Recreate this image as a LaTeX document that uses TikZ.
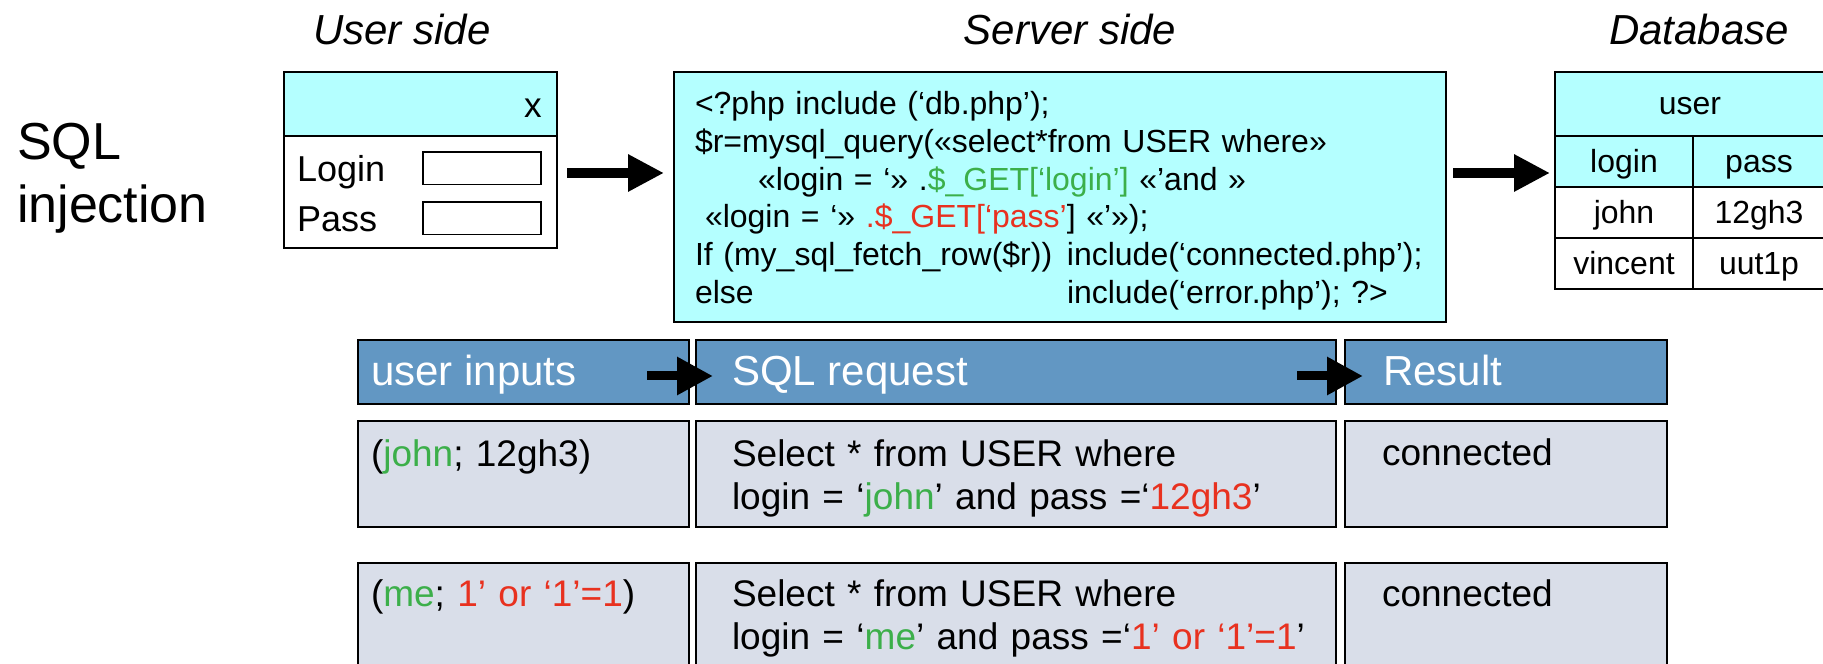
\documentclass[tikz,border=0pt]{standalone}
\usepackage{fontspec}
\setmainfont{Liberation Sans}
\usepackage{xcolor}
\usepackage{tikz}
\usetikzlibrary{arrows.meta,positioning}

\definecolor{wincyan}{HTML}{B4FFFF}
\definecolor{headblue}{HTML}{6297C3}
\definecolor{rowgray}{HTML}{D9DEE9}
\definecolor{okgreen}{HTML}{3CAF4A}
\definecolor{badred}{HTML}{E8311F}

\newcommand{\greentxt}[1]{\textcolor{okgreen}{#1}}
\newcommand{\redtxt}[1]{\textcolor{badred}{#1}}

\begin{document}
\begin{tikzpicture}[
        x=0.1mm, y=-0.1mm,
        every node/.style={inner sep=0pt, outer sep=0pt},
        sidetitle/.style={anchor=base, font=\fontsize{11.95pt}{14pt}\selectfont\itshape},
        boxframe/.style={draw=black, line width=0.6pt, anchor=north west},
        inputfield/.style={draw=black, line width=0.5pt, fill=white, anchor=north west, minimum width=11.8mm, minimum height=3.25mm},
        dbcell/.style={boxframe, font=\fontsize{9.1pt}{11pt}\selectfont, text height=2.6mm, text depth=0.4mm},
        headbox/.style={boxframe, fill=headblue, minimum height=6.4mm},
        rowbox/.style={boxframe, fill=rowgray, minimum height=10.6mm},
        headtxt/.style={anchor=base west, text=white, font=\fontsize{11.95pt}{14pt}\selectfont},
        rowtxt/.style={anchor=base west, text width=62mm, align=left, font=\fontsize{10.53pt}{12.2pt}\selectfont},
        bigarrow/.style={-{Triangle[length=3.6mm, width=3.5mm]}, line width=1mm},
        smallarrow/.style={-{Triangle[length=3.6mm, width=3.6mm]}, line width=0.9mm}
    ]
        \useasboundingbox (0,0) rectangle (1823,664);

        % titles
        \node[sidetitle] (usertitle) at (402,45) {User side};
        \node[sidetitle] (servertitle) at (1070,45) {Server side};
        \node[sidetitle] (dbtitle) at (1699,45) {Database};
        \node[anchor=base west, text width=25mm, align=left, font=\fontsize{14.8pt}{17.9pt}\selectfont] (topic) at (17,160) {SQL\\injection};

        % login window
        \node[boxframe, fill=wincyan, minimum width=27.3mm, minimum height=6.4mm] (winbar) at (284,72) {};
        \node[boxframe, fill=white, minimum width=27.3mm, minimum height=11.2mm] (winbody) at (winbar.south west) {};
        \node[anchor=base, font=\fontsize{10pt}{12pt}\selectfont] (closex) at (533,118) {x};
        \node[anchor=base west, font=\fontsize{10.24pt}{12pt}\selectfont] (loginlbl) at (297,182) {Login};
        \node[anchor=base west, font=\fontsize{10.24pt}{12pt}\selectfont] (passlbl) at (297,232) {Pass};
        \node[inputfield] (loginfld) at (423,152) {};
        \node[inputfield] (passfld) at (423,202) {};

        % php code
        \node[boxframe, fill=wincyan, minimum width=77.2mm, minimum height=25mm] (code) at (674,72) {};
        \node[anchor=base west, text width=76mm, align=left, font=\fontsize{9.1pt}{10.7pt}\selectfont] (codetxt) at (695,115) {%
            <?php include (‘db.php’);\\
            \$r=mysql\_query(«select*from USER where»\\
            \hspace*{6.3mm}«login = ‘» .\greentxt{\$\_GET[‘login’]} «’and »\\
            \hspace*{1mm}«login = ‘» \redtxt{.\$\_GET[‘pass’}] «’»);\\
            \makebox[37.2mm][l]{If (my\_sql\_fetch\_row(\$r))}include(‘connected.php’);\\
            \makebox[37.2mm][l]{else}include(‘error.php’); ?>};

        % database table
        \node[dbcell, fill=wincyan, minimum width=27mm, minimum height=6.4mm] (tuser) at (1555,72) {user};
        \node[dbcell, fill=wincyan, minimum width=13.8mm, minimum height=5.1mm] (tlogin) at (tuser.south west) {login};
        \node[dbcell, fill=wincyan, minimum width=13.2mm, minimum height=5.1mm] (tpass) at (tlogin.north east) {pass};
        \node[dbcell, fill=white, minimum width=13.8mm, minimum height=5.1mm] (tjohn) at (tlogin.south west) {john};
        \node[dbcell, fill=white, minimum width=13.2mm, minimum height=5.1mm] (tjpass) at (tjohn.north east) {12gh3};
        \node[dbcell, fill=white, minimum width=13.8mm, minimum height=5.1mm] (tvinc) at (tjohn.south west) {vincent};
        \node[dbcell, fill=white, minimum width=13.2mm, minimum height=5.1mm] (tvpass) at (tvinc.north east) {uut1p};

        \coordinate (flowrow) at (0,173);
        \draw[bigarrow, shorten <=1mm, shorten >=1mm] (winbody.east |- flowrow) -- (code.west |- flowrow);
        \draw[bigarrow, shorten <=0.7mm, shorten >=0.5mm] (code.east |- flowrow) -- (tlogin.west |- flowrow);

        % examples
        \node[headbox, minimum width=33.1mm] (hinputs) at (358,340) {};
        \node[headbox, minimum width=64mm, right=0.7mm of hinputs] (hrequest) {};
        \node[headbox, minimum width=32.2mm, right=0.9mm of hrequest] (hresult) {};
        \node[rowbox, minimum width=33.1mm, below=1.7mm of hinputs] (ainputs) {};
        \node[rowbox, minimum width=64mm, below=1.7mm of hrequest] (arequest) {};
        \node[rowbox, minimum width=32.2mm, below=1.7mm of hresult] (aresult) {};
        \node[rowbox, minimum width=33.1mm, below=3.6mm of ainputs] (binputs) {};
        \node[rowbox, minimum width=64mm, below=3.6mm of arequest] (brequest) {};
        \node[rowbox, minimum width=32.2mm, below=3.6mm of aresult] (bresult) {};

        \node[headtxt] (tinputs) at (371,386) {user inputs};
        \node[headtxt] (trequest) at (732,386) {SQL request};
        \node[headtxt] (tresult) at (1383,386) {Result};

        \draw[smallarrow] ([xshift=-4.2mm, yshift=-0.4mm]hinputs.east) -- ([xshift=1.7mm, yshift=-0.4mm]hrequest.west);
        \draw[smallarrow] ([xshift=-3.9mm, yshift=-0.4mm]hrequest.east) -- ([xshift=1.8mm, yshift=-0.4mm]hresult.west);

        \node[rowtxt] (ain) at (371,467) {(\greentxt{john}; 12gh3)};
        \node[rowtxt] (areq) at (732,467) {Select * from USER where\\login = ‘\greentxt{john}’ and pass =‘\redtxt{12gh3}’};
        \node[rowtxt] (ares) at (1382,466) {connected};
        \node[rowtxt] (bin) at (371,607) {(\greentxt{me}; \redtxt{1’ or ‘1’=1})};
        \node[rowtxt] (breq) at (732,607) {Select * from USER where\\login = ‘\greentxt{me}’ and pass =‘\redtxt{1’ or ‘1’=1}’};
        \node[rowtxt] (bres) at (1382,607) {connected};
    \end{tikzpicture}
\end{document}
